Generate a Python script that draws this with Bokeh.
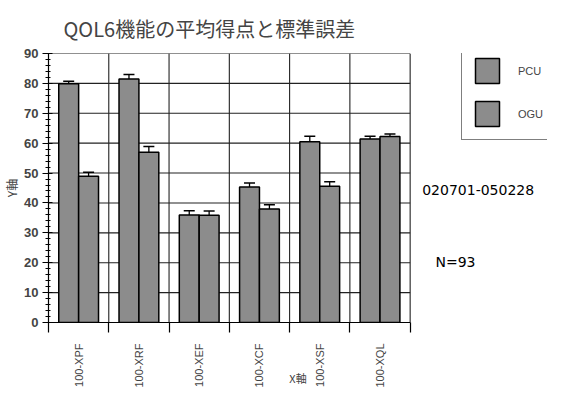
from bokeh.plotting import figure
from bokeh.models import (FixedTicker, SingleIntervalTicker, Whisker, TeeHead, Legend,
                          LegendItem, Label, Range1d, ColumnDataSource)
from bokeh.embed import file_html
from bokeh.resources import INLINE
import math

categories = ["100-XPF", "100-XRF", "100-XEF", "100-XCF", "100-XSF", "100-XQL"]
series_names = ["PCU", "OGU"]
pcu = [79.9, 81.5, 36.0, 45.3, 60.5, 61.4]
ogu = [48.9, 57.0, 35.9, 38.0, 45.6, 62.2]
pcu_se = [0.8, 1.5, 1.4, 1.4, 1.8, 0.9]
ogu_se = [1.4, 1.9, 1.4, 1.4, 1.5, 0.9]
y_ticks = [0, 10, 20, 30, 40, 50, 60, 70, 80, 90]
title_text = "QOL6機能の平均得点と標準誤差"
period_text = "020701-050228"
n_text = "N=93"

n = len(categories)
centers = [i + 0.5 for i in range(n)]
bounds = list(range(n + 1))
off = 0.165
bw = 0.33
X_END = 505 / 61.0   # extra room on the right for legend and notes

src = ColumnDataSource(dict(
    x_p=[c - off for c in centers], x_o=[c + off for c in centers],
    pcu=pcu, ogu=ogu,
    pcu_up=[v + e for v, e in zip(pcu, pcu_se)],
    ogu_up=[v + e for v, e in zip(ogu, ogu_se)],
))

FONT = "Liberation Sans"
JFONT = "Noto Sans CJK JP"
GRAY = "#8c8c8c"
LINE = "#222222"

p = figure(width=547, height=396, output_backend="svg", toolbar_location=None,
           x_range=Range1d(0, X_END), y_range=Range1d(y_ticks[0], y_ticks[-1]),
           min_border_left=42, min_border_right=0, min_border_top=46, min_border_bottom=74)

p.title.text = title_text
p.title.text_font = JFONT
p.title.text_font_size = "20px"
p.title.text_font_style = "normal"
p.title.offset = 15
p.title.standoff = 22

p.outline_line_color = None
p.grid.visible = False

# grid lines and border, limited to the category area
p.segment(x0=0, x1=n, y0=y_ticks[1:], y1=y_ticks[1:], line_color=LINE, line_width=1.1,
          level="underlay")
p.segment(x0=bounds[1:], x1=bounds[1:], y0=y_ticks[0], y1=y_ticks[-1], line_color=LINE,
          line_width=1.1, level="underlay")

r1 = p.vbar(x="x_p", top="pcu", bottom=0, width=bw, source=src,
            fill_color=GRAY, line_color="black", line_width=1.5)
r2 = p.vbar(x="x_o", top="ogu", bottom=0, width=bw, source=src,
            fill_color=GRAY, line_color="black", line_width=1.5)

for base, up, low in (("x_p", "pcu_up", "pcu"), ("x_o", "ogu_up", "ogu")):
    p.add_layout(Whisker(base=base, upper=up, lower=low, source=src, dimension="height",
                         line_color="black", line_width=1.3,
                         upper_head=TeeHead(size=11, line_color="black", line_width=1.5),
                         lower_head=None))

# x axis
p.xaxis.bounds = (0, n)
p.xaxis.ticker = FixedTicker(ticks=centers, minor_ticks=bounds)
p.xaxis.major_label_overrides = {c: lab for c, lab in zip(centers, categories)}
p.xaxis.major_label_orientation = math.pi / 2
p.xaxis.major_tick_out = 0
p.xaxis.major_tick_in = 0
p.xaxis.minor_tick_out = 10
p.xaxis.minor_tick_in = 0
p.xaxis.major_label_standoff = 11
p.xaxis.major_label_text_font = FONT
p.xaxis.major_label_text_font_size = "11px"
p.xaxis.axis_label = "X軸"
p.xaxis.axis_label_text_font = JFONT
p.xaxis.axis_label_text_font_size = "11px"
p.xaxis.axis_label_text_font_style = "normal"
p.xaxis.axis_label_standoff = -21
p.xaxis.axis_line_width = 1.2
p.xaxis.minor_tick_line_width = 1.2

# y axis
p.yaxis.ticker = SingleIntervalTicker(interval=10, num_minor_ticks=5)
p.yaxis.major_tick_out = 6
p.yaxis.major_tick_in = 4
p.yaxis.minor_tick_out = 3
p.yaxis.minor_tick_in = 2
p.yaxis.major_label_standoff = 4
p.yaxis.major_label_text_font = FONT
p.yaxis.major_label_text_font_size = "13px"
p.yaxis.major_label_text_font_style = "bold"
p.yaxis.axis_label = "Y軸"
p.yaxis.axis_label_text_font = JFONT
p.yaxis.axis_label_text_font_size = "12px"
p.yaxis.axis_label_text_font_style = "normal"
p.yaxis.axis_label_standoff = 1
p.yaxis.axis_line_width = 1.2

legend = Legend(items=[LegendItem(label=series_names[0], renderers=[r1]),
                       LegendItem(label=series_names[1], renderers=[r2])],
                location=(413, 182), padding=10, spacing=12,
                glyph_width=30, glyph_height=31, label_standoff=16,
                label_text_font=FONT, label_text_font_size="11px",
                border_line_color="black", border_line_width=1,
                background_fill_color="white", background_fill_alpha=1,
                margin=0)
p.add_layout(legend, "center")

p.add_layout(Label(x=6.2, y=44.3, text=period_text, text_font="DejaVu Sans",
                   text_font_size="14px", text_baseline="middle", text_color="black"))
p.add_layout(Label(x=6.42, y=20.2, text=n_text, text_font="DejaVu Sans",
                   text_font_size="14px", text_baseline="middle", text_color="black"))

open("out.html", "w").write(file_html(p, INLINE))
